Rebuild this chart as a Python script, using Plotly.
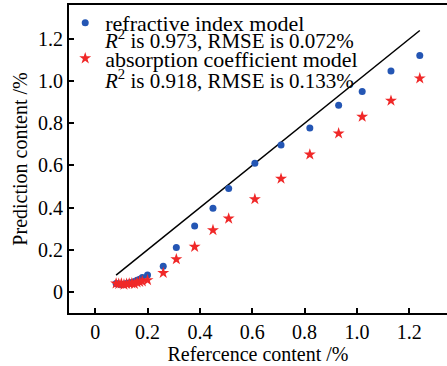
import plotly.graph_objects as go

ref_x = [0.08, 0.09, 0.10, 0.11, 0.12, 0.13, 0.14, 0.15, 0.16, 0.17, 0.18, 0.20,
         0.26, 0.31, 0.38, 0.45, 0.51, 0.61, 0.71, 0.82, 0.93, 1.02, 1.13, 1.24]
pred_refractive = [0.040, 0.037, 0.035, 0.036, 0.040, 0.042, 0.045, 0.049, 0.055, 0.060, 0.068, 0.080,
                   0.122, 0.211, 0.313, 0.397, 0.491, 0.610, 0.697, 0.777, 0.886, 0.951, 1.048, 1.122]
pred_absorption = [0.040, 0.038, 0.040, 0.035, 0.038, 0.040, 0.041, 0.038, 0.045, 0.048, 0.050, 0.056,
                   0.090, 0.155, 0.214, 0.293, 0.348, 0.440, 0.537, 0.652, 0.752, 0.831, 0.907, 1.013]
ideal_x = [0.08, 1.24]
ideal_y = [0.08, 1.24]

tick_vals = [0, 0.2, 0.4, 0.6, 0.8, 1.0, 1.2]
tick_text = ["0", "0.2", "0.4", "0.6", "0.8", "1.0", "1.2"]

model_names = ["refractive index model", "absorption coefficient model"]
model_stats = ["<i>R</i><sup>2</sup> is 0.973, RMSE is 0.072%",
               "<i>R</i><sup>2</sup> is 0.918, RMSE is 0.133%"]

FONT = "Liberation Serif, Times New Roman, serif"

fig = go.Figure()
fig.add_trace(go.Scatter(x=ideal_x, y=ideal_y, mode="lines",
                         line=dict(color="black", width=1.5), showlegend=False))
fig.add_trace(go.Scatter(x=ref_x, y=pred_refractive, mode="markers", name=model_names[0],
                         legendgroup="g1",
                         marker=dict(symbol="circle", size=7, color="#2456b4")))
fig.add_trace(go.Scatter(x=ref_x, y=pred_absorption, mode="markers", name=model_names[1],
                         legendgroup="g2",
                         marker=dict(symbol="star", size=9, color="#f02828")))

# second line of each legend entry
for yy, txt in zip([0.8895, 0.7585], model_stats):
    fig.add_annotation(xref="paper", yref="paper", x=0.087, y=yy, xanchor="left", yanchor="middle",
                       text=txt, showarrow=False, font=dict(family=FONT, size=21, color="black"))

fig.update_layout(
    width=447, height=366,
    margin=dict(l=69, r=0, t=5, b=53),
    plot_bgcolor="white", paper_bgcolor="white",
    font=dict(family=FONT, size=20, color="black"),
    legend=dict(x=-0.01, y=1.01, xanchor="left", yanchor="top",
                bgcolor="rgba(0,0,0,0)",
                font=dict(family=FONT, size=22, color="black"), tracegroupgap=4,
                itemwidth=30),
    xaxis=dict(range=[-0.1, 1.344], tickmode="array", tickvals=tick_vals, ticktext=tick_text,
               ticks="inside", ticklen=5, tickwidth=1.5, tickcolor="black",
               showline=True, linecolor="black", linewidth=2, mirror=True,
               showgrid=False, zeroline=False, automargin=False,
               title=dict(text="Refercence content /%", font=dict(size=20), standoff=2),
               tickfont=dict(size=20)),
    yaxis=dict(range=[-0.1, 1.361], tickmode="array", tickvals=tick_vals, ticktext=tick_text,
               ticks="inside", ticklen=5, tickwidth=1.5, tickcolor="black",
               showline=True, linecolor="black", linewidth=2,
               showgrid=False, zeroline=False, automargin=False,
               title=dict(text="Prediction content /%", font=dict(size=20), standoff=5),
               tickfont=dict(size=20)),
)

fig.write_html("out.html", config={"displayModeBar": False},
               post_script="document.body.style.margin='0';document.body.style.padding='0';")
